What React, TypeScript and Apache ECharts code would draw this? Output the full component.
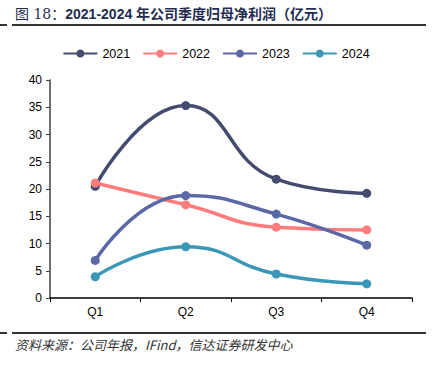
import React, { useEffect, useRef } from "react";
import * as echarts from "echarts";

const categories = ["Q1", "Q2", "Q3", "Q4"];
const seriesNames = ["2021", "2022", "2023", "2024"];
const values2021 = [20.5, 35.3, 21.8, 19.2];
const values2022 = [21.1, 17.1, 13.0, 12.5];
const values2023 = [6.9, 18.8, 15.4, 9.7];
const values2024 = [3.9, 9.4, 4.4, 2.6];
const colors = ["#434C6E", "#FF7C7C", "#5A68A5", "#3A97B5"];
const yTicks = { min: 0, max: 40, interval: 5 };

export default function App() {
  const ref = useRef<HTMLDivElement>(null);
  useEffect(() => {
    document.body.style.margin = "0";
    const chart = echarts.init(ref.current!, null, { renderer: "svg" });
    const data = [values2021, values2022, values2023, values2024];
    chart.setOption({
      animation: false,
      backgroundColor: "#ffffff",
      textStyle: { fontFamily: "Liberation Sans, Arial, sans-serif" },
      legend: {
        top: 42,
        left: "center",
        itemWidth: 34,
        itemHeight: 10,
        itemGap: 12,
        textStyle: { fontSize: 12.5, color: "#000", fontFamily: "Liberation Sans" },
        data: seriesNames,
      },
      grid: { left: 50, right: 20, top: 80, bottom: 76, containLabel: false },
      xAxis: {
        type: "category",
        data: categories,
        boundaryGap: true,
        axisLine: { lineStyle: { color: "#000", width: 1.5 } },
        axisTick: { show: true, length: 4, lineStyle: { color: "#000" } },
        axisLabel: { color: "#000", fontSize: 12, margin: 8 },
      },
      yAxis: {
        type: "value",
        min: yTicks.min,
        max: yTicks.max,
        interval: yTicks.interval,
        splitLine: { show: false },
        axisLine: { show: true, lineStyle: { color: "#404040", width: 1.5 } },
        axisTick: { show: true, length: 4, lineStyle: { color: "#404040" } },
        axisLabel: { color: "#000", fontSize: 12, margin: 8 },
      },
      series: seriesNames.map((name, i) => ({
        name,
        type: "line",
        smooth: true,
        data: data[i],
        symbol: "circle",
        symbolSize: 9,
        itemStyle: { color: colors[i] },
        lineStyle: { color: colors[i], width: 3.5 },
      })),
      graphic: [
        {
          type: "text",
          left: 15,
          top: 7,
          style: {
            text: "{a|图 18：}{b|2021-2024 年公司季度归母净利润（亿元）}",
            rich: {
              a: { fontSize: 14, fontFamily: "DejaVu Serif, Noto Sans CJK SC", fill: "#1F2D50" },
              b: { fontSize: 14, fontWeight: "bold", fontFamily: "Liberation Sans, Noto Sans CJK SC", fill: "#1F2D50" },
            },
          },
        },
        { type: "line", shape: { x1: 0, y1: 25, x2: 7, y2: 25 }, style: { stroke: "#333", lineWidth: 2 } },
        { type: "line", shape: { x1: 12, y1: 25, x2: 426, y2: 25 }, style: { stroke: "#333", lineWidth: 2 } },
        { type: "line", shape: { x1: 0, y1: 333, x2: 7, y2: 333 }, style: { stroke: "#333", lineWidth: 2 } },
        { type: "line", shape: { x1: 12, y1: 333, x2: 426, y2: 333 }, style: { stroke: "#333", lineWidth: 2 } },
        {
          type: "text",
          left: 15,
          top: 338,
          style: {
            text: "资料来源：公司年报，IFind，信达证券研发中心",
            font: "italic 13px 'Noto Sans CJK SC'",
            fill: "#333",
          },
        },
      ],
    });
    return () => chart.dispose();
  }, []);
  return <div ref={ref} style={{ width: 432, height: 374 }} />;
}
